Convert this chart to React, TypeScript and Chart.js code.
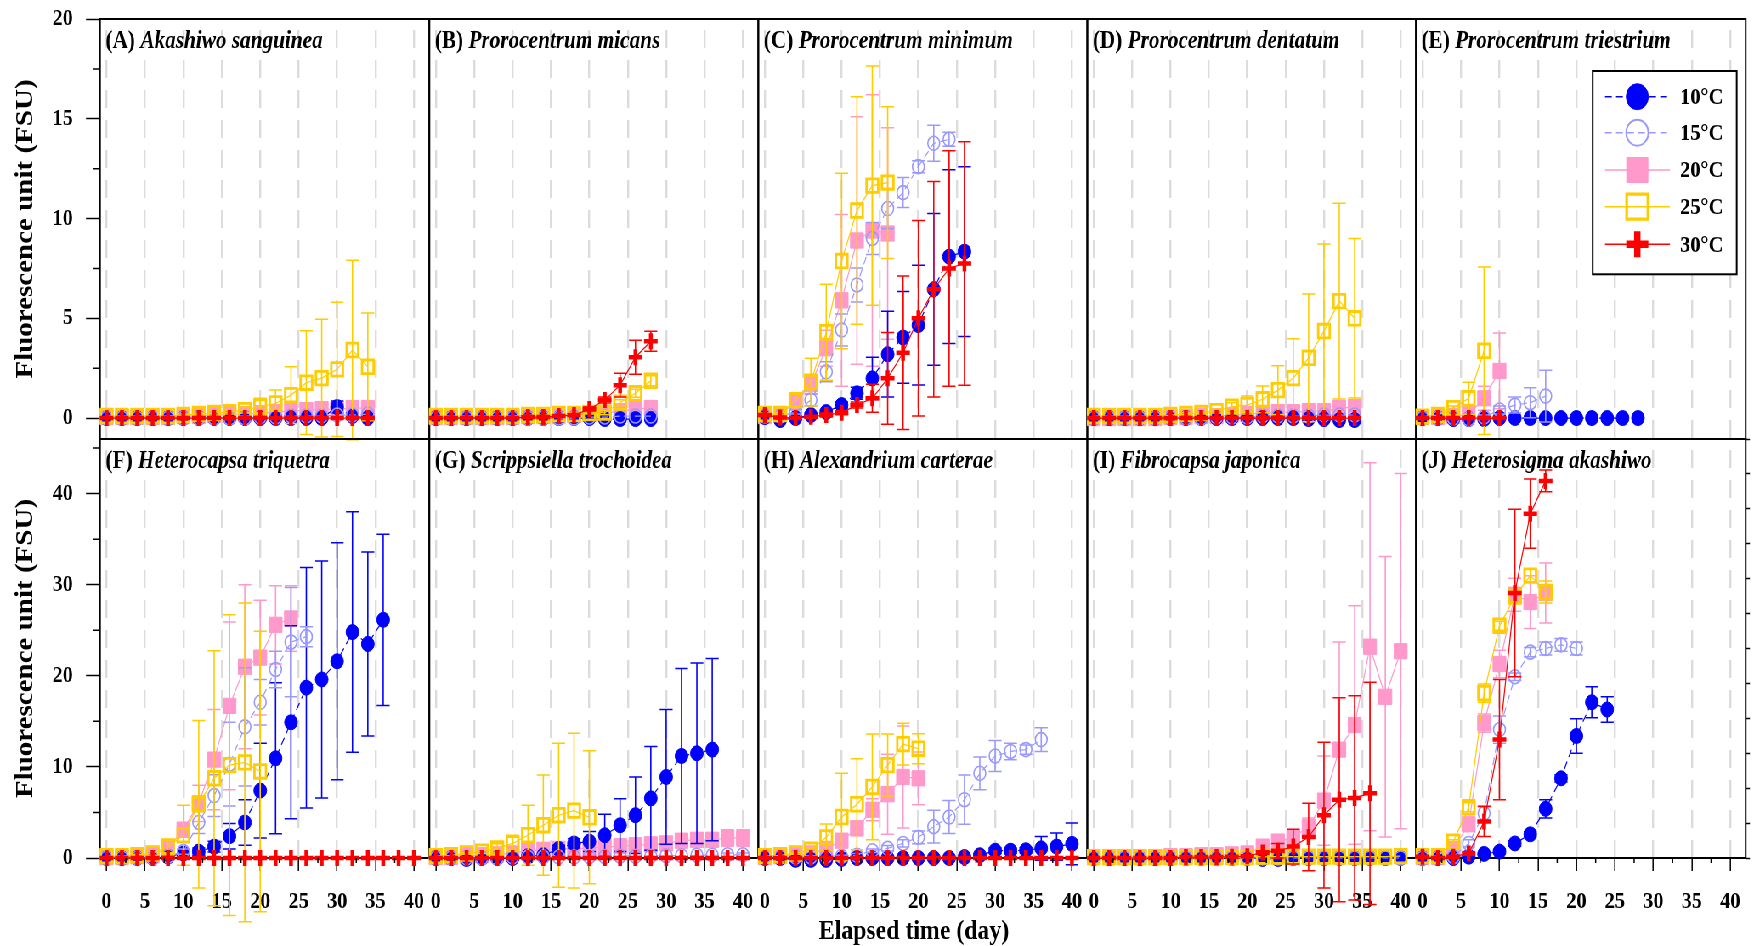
import React, { useEffect, useRef } from 'react';
import { Chart, registerables } from 'chart.js';

Chart.register(...registerables);

// ---------- page geometry (reference is horizontally squashed ~0.85) ----------
const PAGE_W = 1754;
const PAGE_H = 946;
const LW = 2064;
const SX = PAGE_W / LW;
const COLS_FULL = [100, 429.3, 758.3, 1087.3, 1416, 1745.7];
const ROWS = [19, 439, 858];
const COLS = COLS_FULL.map((v) => v / SX);

const SERIF = "'Liberation Serif', 'Times New Roman', Times, serif";

// ---------- axis / label constants ----------
const DAY_STEP = 2;
const SERIES = ['10°C', '15°C', '20°C', '25°C', '30°C'];
const X_MIN = -0.85;
const X_MAX = 42;
const X_TICKS = [0, 5, 10, 15, 20, 25, 30, 35, 40];
const X_MINOR = [2.5, 7.5, 12.5, 17.5, 22.5, 27.5, 32.5, 37.5];
const Y_TOP_RANGE = [-1.05, 20];
const Y_TOP_TICKS = [0, 5, 10, 15, 20];
const Y_TOP_MINOR = [2.5, 7.5, 12.5, 17.5];
const Y_BOT_RANGE = [0, 46];
const Y_BOT_TICKS = [0, 10, 20, 30, 40];
const Y_BOT_MINOR = [5, 15, 25, 35, 45];
const J_RIGHT_TICKS = [0, 1, 2, 3, 4, 5, 6, 7, 8, 9, 10, 11, 12];
const Y_TITLE = 'Fluorescence unit (FSU)';
const X_TITLE = 'Elapsed time (day)';

// ---------- data (mean and SD, one value every 2 days from day 0) ----------
// (A) Akashiwo sanguinea
const A10 = [0, 0, 0, 0, 0, 0, 0, 0, 0, 0, 0, 0, 0, 0, 0, 0.55, 0.1, 0];
const A10_SD = [0, 0, 0, 0, 0, 0, 0, 0, 0, 0, 0, 0, 0.1, 0.1, 0.1, 0.3, 0.1, 0];
const A15 = [0, 0, 0, 0, 0, 0, 0, 0, 0, 0, 0.05, 0.05, 0.1, 0.1, 0.1, 0.15, 0.15, 0.2];
const A15_SD = [0, 0, 0, 0, 0, 0, 0, 0, 0, 0, 0, 0, 0, 0, 0, 0, 0, 0];
const A20 = [0.05, 0.05, 0.05, 0.05, 0.05, 0.1, 0.1, 0.15, 0.2, 0.2, 0.25, 0.3, 0.35, 0.4, 0.45, 0.45, 0.5, 0.5];
const A20_SD = [0, 0, 0, 0, 0, 0, 0, 0.05, 0.05, 0.1, 0.1, 0.1, 0.15, 0.2, 0.2, 0.25, 0.25, 0.25];
const A25 = [0.1, 0.1, 0.1, 0.1, 0.1, 0.15, 0.2, 0.25, 0.3, 0.4, 0.57, 0.73, 1.15, 1.77, 2.0, 2.44, 3.41, 2.57];
const A25_SD = [0, 0, 0, 0, 0, 0.05, 0.05, 0.1, 0.1, 0.15, 0.42, 0.67, 1.42, 2.6, 2.95, 3.36, 4.5, 2.7];
const A30 = [0, 0, 0, 0, 0, 0, 0, 0, 0, 0, 0, 0, 0, 0, 0, 0, 0, 0];
const A30_SD = [0, 0, 0, 0, 0, 0, 0, 0, 0, 0, 0, 0, 0, 0, 0, 0, 0, 0];

// (B) Prorocentrum micans
const B10 = [0, 0, 0, 0, 0, 0, 0, 0, 0, 0, 0, -0.05, -0.05, -0.05, -0.05];
const B10_SD = [0, 0, 0, 0, 0, 0, 0, 0, 0, 0, 0, 0, 0, 0, 0];
const B15 = [0, 0, 0, 0, 0, 0, 0, 0, 0, 0, 0.05, 0.05, 0.1, 0.1, 0.1];
const B15_SD = [0, 0, 0, 0, 0, 0, 0, 0, 0, 0, 0, 0, 0, 0, 0];
const B20 = [0.05, 0.05, 0.05, 0.05, 0.05, 0.05, 0.1, 0.1, 0.1, 0.15, 0.2, 0.25, 0.35, 0.45, 0.5];
const B20_SD = [0, 0, 0, 0, 0, 0, 0, 0, 0, 0.05, 0.1, 0.1, 0.15, 0.2, 0.25];
const B25 = [0.1, 0.1, 0.1, 0.1, 0.1, 0.1, 0.15, 0.15, 0.2, 0.2, 0.25, 0.27, 0.77, 1.24, 1.87];
const B25_SD = [0, 0, 0, 0, 0, 0, 0, 0, 0, 0.05, 0.05, 0.1, 0.15, 0.2, 0.25];
const B30 = [0, 0, 0, 0, 0, 0, 0.05, 0.05, 0.1, 0.15, 0.45, 0.9, 1.65, 3.05, 3.85];
const B30_SD = [0, 0, 0, 0, 0, 0, 0, 0, 0, 0, 0.1, 0.15, 0.6, 0.85, 0.5];

// (C) Prorocentrum minimum
const C10 = [0.05, -0.1, 0, 0.15, 0.3, 0.65, 1.24, 1.99, 3.2, 4.04, 4.66, 6.45, 8.09, 8.34];
const C10_SD = [0, 0, 0.05, 0.1, 0.1, 0.15, 0.3, 1.06, 2.15, 2.3, 3.0, 3.8, 4.35, 4.25];
const C15 = [0.1, 0.1, 0.3, 0.9, 2.32, 4.41, 6.67, 9.0, 10.5, 11.3, 12.6, 13.77, 13.97];
const C15_SD = [0, 0, 0.1, 0.3, 0.5, 0.8, 0.85, 0.8, 1.0, 0.75, 0.3, 0.9, 0.35];
const C20 = [0.1, 0.2, 0.8, 1.7, 3.5, 5.9, 8.9, 9.4, 9.25];
const C20_SD = [0, 0.05, 0.3, 0.5, 0.9, 4.3, 6.2, 6.8, 5.3];
const C25 = [0.2, 0.2, 0.9, 1.8, 4.3, 7.87, 10.4, 11.65, 11.8];
const C25_SD = [0.05, 0.05, 0.3, 1.2, 2.4, 4.4, 5.7, 6.0, 3.8];
const C30 = [0.15, 0.03, 0, 0.07, 0.15, 0.27, 0.65, 0.99, 1.99, 3.27, 5.0, 6.45, 7.5, 7.75];
const C30_SD = [0, 0, 0, 0.05, 0.1, 0.1, 0.15, 0.7, 2.3, 3.85, 4.9, 5.4, 5.9, 6.1];

// (D) Prorocentrum dentatum
const D10 = [0, 0, 0, 0, 0, 0, 0, 0, 0, 0, 0, 0, 0, 0, -0.05, -0.05, -0.1, -0.1];
const D10_SD = [0, 0, 0, 0, 0, 0, 0, 0, 0, 0, 0, 0, 0, 0, 0, 0, 0, 0];
const D15 = [0, 0, 0, 0, 0, 0, 0, 0, 0.05, 0.05, 0.05, 0.1, 0.1, 0.1, 0.1, 0.15, 0.15, 0.15];
const D15_SD = [0, 0, 0, 0, 0, 0, 0, 0, 0, 0, 0, 0, 0, 0, 0, 0, 0, 0];
const D20 = [0, 0, 0, 0, 0, 0.05, 0.05, 0.1, 0.1, 0.15, 0.2, 0.25, 0.3, 0.3, 0.35, 0.35, 0.5, 0.55];
const D20_SD = [0, 0, 0, 0, 0, 0, 0, 0, 0, 0.05, 0.05, 0.1, 0.1, 0.1, 0.15, 0.15, 0.25, 0.3];
const D25 = [0.1, 0.1, 0.1, 0.1, 0.1, 0.15, 0.2, 0.25, 0.35, 0.57, 0.65, 0.94, 1.4, 2.0, 3.02, 4.36, 5.86, 5.0];
const D25_SD = [0, 0, 0, 0, 0, 0, 0.05, 0.05, 0.1, 0.2, 0.45, 0.67, 1.22, 1.98, 3.2, 4.36, 4.9, 4.0];
const D30 = [0, 0, 0, 0, 0, 0, 0, 0, 0, 0, 0, 0, 0, 0, 0, 0, 0, 0];
const D30_SD = [0, 0, 0, 0, 0, 0, 0, 0, 0, 0, 0, 0, 0, 0, 0, 0, 0, 0];

// (E) Prorocentrum triestrium
const E10 = [0, 0, -0.05, -0.05, -0.05, 0, 0, 0, 0, 0, 0, 0, 0, 0, 0];
const E10_SD = [0, 0, 0, 0, 0, 0, 0, 0, 0, 0, 0, 0, 0, 0, 0];
const E15 = [0, 0, 0, -0.05, 0.05, 0.4, 0.65, 0.77, 1.1];
const E15_SD = [0, 0, 0, 0, 0.1, 0.2, 0.4, 0.75, 1.3];
const E20 = [0.05, 0.05, 0.1, 0.2, 0.99, 2.36];
const E20_SD = [0, 0, 0, 0.1, 0.6, 1.9];
const E25 = [0.07, 0.15, 0.5, 0.99, 3.37];
const E25_SD = [0, 0, 0.1, 0.8, 4.2];
const E30 = [0, 0, 0, 0, 0, 0];
const E30_SD = [0, 0, 0, 0, 0, 0];

// (F) Heterocapsa triquetra
const F10 = [0, 0, 0, 0, 0.15, 0.5, 0.7, 1.25, 2.4, 3.9, 7.4, 10.95, 14.9, 18.7, 19.6, 21.6, 24.8, 23.5, 26.15];
const F10_SD = [0, 0, 0, 0, 0.1, 0.2, 0.4, 0.6, 1.4, 2.5, 5.2, 8.3, 10.6, 13.2, 13.0, 13.0, 13.2, 10.1, 9.4];
const F15 = [0, 0, 0, 0, 0.2, 0.7, 3.9, 6.85, 10.3, 14.4, 17.1, 20.7, 23.7, 24.3];
const F15_SD = [0, 0, 0, 0, 0.1, 0.3, 1.2, 2.3, 4.6, 6.5, 2.5, 2.0, 6.0, 1.1];
const F20 = [0.1, 0.1, 0.2, 0.3, 1.06, 3.1, 6.0, 10.8, 16.7, 21.0, 22.0, 25.6, 26.3];
const F20_SD = [0, 0, 0, 0.1, 0.4, 0.8, 2.0, 5.5, 9.2, 9.0, 6.3, 4.3, 3.6];
const F25 = [0.2, 0.2, 0.3, 0.5, 1.25, 2.5, 5.9, 8.75, 10.2, 10.5, 9.5];
const F25_SD = [0, 0, 0.1, 0.2, 0.8, 3.3, 9.2, 14.0, 16.5, 17.5, 15.4];
const F30 = [0, 0, 0, 0, 0, 0, 0, 0, 0, 0, 0, 0, 0, 0, 0, 0, 0, 0, 0, 0, 0];
const F30_SD = [0, 0, 0, 0, 0, 0, 0, 0, 0, 0, 0, 0, 0, 0, 0, 0, 0, 0, 0, 0, 0];

// (G) Scrippsiella trochoidea
const G10 = [0, 0, -0.1, 0, 0, 0, 0.2, 0.3, 1.0, 1.6, 1.8, 2.5, 3.6, 4.7, 6.55, 8.9, 11.2, 11.5, 11.9];
const G10_SD = [0, 0, 0.1, 0, 0, 0, 0.1, 0.2, 0.4, 0.5, 1.1, 2.3, 2.9, 4.2, 5.7, 7.4, 9.6, 9.9, 10.0];
const G15 = [0, 0, 0, 0, 0, 0.1, 0.1, 0.1, 0.1, 0.1, 0.15, 0.15, 0.2, 0.2, 0.2, 0.25, 0.25, 0.3, 0.3, 0.35, 0.35];
const G15_SD = [0, 0, 0, 0, 0, 0, 0, 0, 0, 0, 0, 0, 0, 0, 0, 0, 0, 0, 0, 0.2, 0.2];
const G20 = [0.1, 0.1, 0.2, 0.3, 0.4, 0.5, 0.8, 0.9, 1.0, 1.0, 1.1, 1.2, 1.3, 1.4, 1.5, 1.6, 1.9, 2.0, 2.0, 2.2, 2.2];
const G20_SD = [0, 0, 0, 0, 0.1, 0.1, 0.2, 0.2, 0.3, 0.3, 0.3, 0.4, 0.4, 0.4, 0.5, 0.5, 0.6, 0.7, 0.7, 0.9, 0.9];
const G25 = [0.2, 0.3, 0.5, 0.7, 1.06, 1.6, 2.5, 3.6, 4.7, 5.2, 4.47];
const G25_SD = [0, 0, 0.1, 0.2, 0.5, 0.9, 3.3, 5.5, 7.9, 8.5, 7.3];
const G30 = [0, 0, 0, 0, 0, 0, 0, 0, 0, 0, 0, 0, 0, 0, 0, 0, 0, 0, 0, 0, 0];
const G30_SD = [0, 0, 0, 0, 0, 0, 0, 0, 0, 0, 0, 0, 0, 0, 0, 0, 0, 0, 0, 0, 0];

// (H) Alexandrium carterae
const H10 = [0, 0, -0.2, -0.2, -0.2, -0.1, 0, 0, 0, 0, 0, 0, 0, 0.1, 0.3, 0.8, 0.8, 0.85, 1.06, 1.25, 1.55];
const H10_SD = [0, 0, 0.1, 0.1, 0.1, 0.1, 0, 0, 0, 0, 0, 0, 0, 0.1, 0.2, 0.3, 0.3, 0.3, 1.3, 1.5, 2.3];
const H15 = [0.1, 0.1, 0.1, 0.1, 0.2, 0.2, 0.3, 0.8, 1.06, 1.6, 2.27, 3.44, 4.5, 6.4, 9.3, 11.2, 11.7, 11.9, 13.0];
const H15_SD = [0, 0, 0, 0, 0, 0.1, 0.2, 0.2, 0.3, 0.4, 0.7, 1.8, 1.8, 2.7, 1.8, 1.7, 0.9, 0.5, 1.3];
const H20 = [0.1, 0.2, 0.3, 0.5, 1.0, 1.9, 3.26, 5.3, 7.0, 8.9, 8.75];
const H20_SD = [0, 0, 0, 0.1, 0.3, 0.5, 0.8, 1.2, 4.4, 5.6, 2.9];
const H25 = [0.2, 0.3, 0.5, 0.9, 2.27, 4.5, 5.9, 7.8, 10.2, 12.5, 12.0];
const H25_SD = [0, 0, 0.1, 0.2, 1.45, 4.8, 5.0, 5.8, 3.4, 2.3, 1.65];
const H30 = [0, 0, 0, 0, 0, 0, 0, 0, 0, 0, 0, 0, 0, 0, 0, 0, 0, 0, 0, 0, 0];
const H30_SD = [0, 0, 0, 0, 0, 0, 0, 0, 0, 0, 0, 0, 0, 0, 0, 0, 0, 0, 0, 0, 0];

// (I) Fibrocapsa japonica
const I10 = [0, 0, 0, 0, 0, 0, 0, 0, 0, 0, 0, -0.1, -0.1, 0, 0, 0, 0, 0, 0, 0, 0];
const I10_SD = [0, 0, 0, 0, 0, 0, 0, 0, 0, 0, 0, 0, 0, 0, 0, 0, 0, 0, 0, 0, 0];
const I15 = [0, 0, 0, 0, 0, 0, 0, 0, 0, 0, 0, 0, 0, 0, 0, 0, 0, 0, 0, 0, 0];
const I15_SD = [0, 0, 0, 0, 0, 0, 0, 0, 0, 0, 0, 0, 0, 0, 0, 0, 0, 0, 0, 0, 0];
const I20 = [0.1, 0.1, 0.1, 0.1, 0.1, 0.2, 0.2, 0.3, 0.3, 0.4, 0.5, 1.25, 1.8, 2.3, 3.4, 6.3, 11.9, 14.6, 23.2, 17.7, 22.7];
const I20_SD = [0, 0, 0, 0, 0, 0, 0, 0, 0, 0.1, 0.2, 0.2, 0.4, 0.6, 1.0, 4.9, 11.8, 13.1, 20.2, 15.4, 19.5];
const I25 = [0.1, 0.1, 0.1, 0.1, 0.1, 0.1, 0.1, 0.1, 0.1, 0.1, 0.1, 0.15, 0.15, 0.15, 0.15, 0.15, 0.15, 0.15, 0.15, 0.15, 0.2];
const I25_SD = [0, 0, 0, 0, 0, 0, 0, 0, 0, 0, 0, 0, 0, 0, 0, 0, 0, 0, 0, 0, 0];
const I30 = [0, 0, 0, 0, 0, 0, 0.1, 0.1, 0.1, 0.15, 0.2, 0.6, 0.8, 1.25, 2.3, 4.7, 6.4, 6.6, 7.1];
const I30_SD = [0, 0, 0, 0, 0, 0, 0, 0, 0, 0, 0.1, 0.2, 0.8, 1.9, 3.7, 8.0, 11.2, 11.2, 12.2];

// (J) Heterosigma akashiwo
const J10 = [0, 0, 0, 0.15, 0.45, 0.7, 1.6, 2.6, 5.4, 8.75, 13.4, 17.1, 16.3];
const J10_SD = [0, 0, 0, 0, 0.1, 0.2, 0.3, 0.3, 1.0, 0.4, 1.9, 1.7, 1.4];
const J15 = [0, 0, 0.15, 1.6, 4.9, 14.1, 19.9, 22.6, 23.0, 23.4, 23.0];
const J15_SD = [0, 0, 0, 0.4, 0.8, 1.5, 0.4, 0.5, 0.7, 0.7, 0.7];
const J20 = [0.1, 0.1, 1.0, 3.7, 14.8, 21.3, 28.9, 28.1, 29.1];
const J20_SD = [0, 0, 0.2, 0.5, 1.0, 1.5, 1.8, 2.9, 3.3];
const J25 = [0.2, 0.2, 1.8, 5.57, 18.1, 25.5, 28.7, 31.0, 29.2];
const J25_SD = [0, 0, 0.2, 0.5, 1.0, 0.5, 0.7, 0.7, 1.2];
const J30 = [0.15, 0, 0.15, 0.5, 4.0, 13.0, 29.1, 37.8, 41.4];
const J30_SD = [0, 0.1, 0, 0.2, 1.65, 6.6, 9.2, 3.8, 1.2];

// ---------- panels ----------
const PANELS = [
  { tag: '(A)', name: 'Akashiwo sanguinea', row: 0, col: 0, values: [A10, A15, A20, A25, A30], sds: [A10_SD, A15_SD, A20_SD, A25_SD, A30_SD] },
  { tag: '(B)', name: 'Prorocentrum micans', row: 0, col: 1, values: [B10, B15, B20, B25, B30], sds: [B10_SD, B15_SD, B20_SD, B25_SD, B30_SD] },
  { tag: '(C)', name: 'Prorocentrum minimum', row: 0, col: 2, values: [C10, C15, C20, C25, C30], sds: [C10_SD, C15_SD, C20_SD, C25_SD, C30_SD] },
  { tag: '(D)', name: 'Prorocentrum dentatum', row: 0, col: 3, values: [D10, D15, D20, D25, D30], sds: [D10_SD, D15_SD, D20_SD, D25_SD, D30_SD] },
  { tag: '(E)', name: 'Prorocentrum triestrium', row: 0, col: 4, values: [E10, E15, E20, E25, E30], sds: [E10_SD, E15_SD, E20_SD, E25_SD, E30_SD], legend: true },
  { tag: '(F)', name: 'Heterocapsa triquetra', row: 1, col: 0, values: [F10, F15, F20, F25, F30], sds: [F10_SD, F15_SD, F20_SD, F25_SD, F30_SD] },
  { tag: '(G)', name: 'Scrippsiella trochoidea', row: 1, col: 1, values: [G10, G15, G20, G25, G30], sds: [G10_SD, G15_SD, G20_SD, G25_SD, G30_SD] },
  { tag: '(H)', name: 'Alexandrium carterae', row: 1, col: 2, values: [H10, H15, H20, H25, H30], sds: [H10_SD, H15_SD, H20_SD, H25_SD, H30_SD], xTitle: true },
  { tag: '(I)', name: 'Fibrocapsa japonica', row: 1, col: 3, values: [I10, I15, I20, I25, I30], sds: [I10_SD, I15_SD, I20_SD, I25_SD, I30_SD] },
  { tag: '(J)', name: 'Heterosigma akashiwo', row: 1, col: 4, values: [J10, J15, J20, J25, J30], sds: [J10_SD, J15_SD, J20_SD, J25_SD, J30_SD], rightAxis: true },
];

// ---------- styles ----------
const STYLES = [
  { color: '#0000ff', shape: 'circle', r: 7.5, fill: true, pbw: 1, dash: [8, 5], order: 3 },
  { color: '#9999ff', shape: 'circle', r: 7, fill: false, pbw: 1.6, dash: [8, 5], order: 2 },
  { color: '#ff99cc', shape: 'rect', r: 10.8, fill: true, pbw: 1, dash: [], order: 4 },
  { color: '#ffcc00', shape: 'rect', r: 9.6, fill: false, pbw: 2.8, dash: [], order: 1 },
  { color: '#ff0000', shape: 'cross', r: 8, fill: false, pbw: 4.5, dash: [], order: 0 },
];

const LEGEND_BOX = { x1: 1592.7, y1: 71, x2: 1736.7, y2: 274.3, lineX1: 1605, lineX2: 1670, markX: 1637.3, textX: 1680, rows: [96.7, 132.7, 170, 206.7, 244.3] };
const X_TITLE_POS = { x: 914, y: 932 };
const CAP = 7.6;

function zeroPadding(s: any) {
  s.paddingTop = 0;
  s.paddingBottom = 0;
  s.paddingLeft = 0;
  s.paddingRight = 0;
}

const decorPlugin = {
  id: 'panelDecor',
  beforeDatasetsDraw(chart: any, _a: any, o: any) {
    const ctx = chart.ctx;
    const ca = chart.chartArea;
    ctx.save();
    ctx.strokeStyle = '#000';
    ctx.lineWidth = 2;
    ctx.setLineDash([]);
    ctx.strokeRect(ca.left, ca.top, ca.right - ca.left, ca.bottom - ca.top);
    ctx.fillStyle = '#000';
    ctx.textAlign = 'left';
    ctx.textBaseline = 'alphabetic';
    const tx = ca.left + 6.5;
    const ty = ca.top + 29;
    ctx.font = `bold 25px ${SERIF}`;
    const tagText = o.tag + ' ';
    ctx.fillText(tagText, tx, ty);
    const w = ctx.measureText(tagText).width;
    ctx.font = `italic bold 25px ${SERIF}`;
    ctx.fillText(o.name, tx + w, ty);
    ctx.restore();
  },
  beforeDatasetDraw(chart: any, args: any) {
    const ds = chart.data.datasets[args.index];
    const sd = ds.errorBars;
    if (!sd) return;
    const ys = chart.scales.y;
    const ctx = chart.ctx;
    ctx.save();
    ctx.strokeStyle = ds.borderColor;
    ctx.setLineDash([]);
    args.meta.data.forEach((el: any, i: number) => {
      const s = sd[i];
      if (!s) return;
      const v = ds.data[i].y;
      const x = el.x;
      const y1 = ys.getPixelForValue(v + s);
      const y2 = ys.getPixelForValue(v - s);
      ctx.lineWidth = 1.6;
      ctx.beginPath();
      ctx.moveTo(x, y1);
      ctx.lineTo(x, y2);
      ctx.stroke();
      ctx.lineWidth = 1.5;
      ctx.beginPath();
      ctx.moveTo(x - CAP, y1);
      ctx.lineTo(x + CAP, y1);
      ctx.moveTo(x - CAP, y2);
      ctx.lineTo(x + CAP, y2);
      ctx.stroke();
    });
    ctx.restore();
  },
  afterDraw(chart: any, _a: any, o: any) {
    const ctx = chart.ctx;
    const ca = chart.chartArea;
    ctx.save();
    ctx.strokeStyle = '#000';
    ctx.lineWidth = 1.5;
    ctx.setLineDash([]);
    if (o.minorX) {
      const s = chart.scales.x;
      ctx.beginPath();
      o.minorX.forEach((v: number) => {
        const px = s.getPixelForValue(v);
        ctx.moveTo(px, ca.bottom);
        ctx.lineTo(px, ca.bottom + 5);
      });
      ctx.stroke();
    }
    if (o.minorY) {
      const s = chart.scales.y;
      ctx.beginPath();
      o.minorY.forEach((v: number) => {
        const py = s.getPixelForValue(v);
        ctx.moveTo(ca.left - 8, py);
        ctx.lineTo(ca.left, py);
      });
      ctx.stroke();
    }
    if (o.xTitle) {
      ctx.fillStyle = '#000';
      ctx.font = `bold 28px ${SERIF}`;
      ctx.textAlign = 'center';
      ctx.textBaseline = 'middle';
      ctx.fillText(X_TITLE, X_TITLE_POS.x / SX, X_TITLE_POS.y);
    }
    if (o.legend) {
      const L = LEGEND_BOX;
      const x1 = L.x1 / SX, x2 = L.x2 / SX;
      ctx.fillStyle = '#fff';
      ctx.fillRect(x1, L.y1, x2 - x1, L.y2 - L.y1);
      ctx.strokeStyle = '#000';
      ctx.lineWidth = 2;
      ctx.strokeRect(x1, L.y1, x2 - x1, L.y2 - L.y1);
      const mx = L.markX / SX;
      STYLES.forEach((st, k) => {
        const y = L.rows[k];
        ctx.strokeStyle = st.color;
        ctx.fillStyle = st.color;
        ctx.lineWidth = 1.5;
        ctx.setLineDash(st.dash);
        ctx.beginPath();
        ctx.moveTo(L.lineX1 / SX, y);
        ctx.lineTo(L.lineX2 / SX, y);
        ctx.stroke();
        ctx.setLineDash([]);
        if (st.shape === 'circle') {
          ctx.beginPath();
          ctx.arc(mx, y, 13, 0, Math.PI * 2);
          if (st.fill) ctx.fill();
          ctx.lineWidth = st.fill ? 1 : 2;
          ctx.stroke();
        } else if (st.shape === 'rect') {
          ctx.beginPath();
          ctx.rect(mx - 12.5, y - 12.5, 25, 25);
          if (st.fill) ctx.fill();
          ctx.lineWidth = st.fill ? 1 : 3.2;
          ctx.stroke();
        } else {
          ctx.lineWidth = 7.5;
          ctx.beginPath();
          ctx.moveTo(mx, y - 13);
          ctx.lineTo(mx, y + 13);
          ctx.moveTo(mx - 13, y);
          ctx.lineTo(mx + 13, y);
          ctx.stroke();
        }
        ctx.fillStyle = '#000';
        ctx.font = `bold 24px ${SERIF}`;
        ctx.textAlign = 'left';
        ctx.textBaseline = 'middle';
        ctx.fillText(SERIES[k], L.textX / SX, y + 1);
      });
    }
    ctx.restore();
  },
};

function makeConfig(p: any): any {
  const left = COLS[p.col];
  const right = COLS[p.col + 1];
  const top = ROWS[p.row];
  const bottom = ROWS[p.row + 1];
  const isBottom = p.row === 1;
  const isFirst = p.col === 0;
  const xH = isBottom ? PAGE_H - bottom : 0;
  const yW = isFirst ? left : 0;
  const yRange = isBottom ? Y_BOT_RANGE : Y_TOP_RANGE;
  const yTicks = isBottom ? Y_BOT_TICKS : Y_TOP_TICKS;
  const yMinor = isBottom ? Y_BOT_MINOR : Y_TOP_MINOR;

  const datasets = STYLES.map((st, k) => ({
    label: SERIES[k],
    data: p.values[k].map((v: number, i: number) => ({ x: i * DAY_STEP, y: v })),
    errorBars: p.sds[k],
    borderColor: st.color,
    backgroundColor: st.color,
    borderWidth: 1.2,
    borderDash: st.dash,
    pointStyle: st.shape,
    pointRadius: st.r,
    pointHoverRadius: st.r,
    pointBackgroundColor: st.fill ? st.color : 'rgba(0,0,0,0)',
    pointBorderColor: st.color,
    pointBorderWidth: st.pbw,
    tension: 0,
    clip: false,
    order: st.order,
  }));

  const tickFont = { family: SERIF, size: 24, weight: 'bold' };

  const scales: any = {
    x: {
      type: 'linear',
      min: X_MIN,
      max: X_MAX,
      bounds: 'data',
      afterBuildTicks: (s: any) => {
        s.ticks = X_TICKS.map((v) => ({ value: v }));
      },
      afterFit: (s: any) => {
        s.height = xH;
        zeroPadding(s);
      },
      ticks: { display: isBottom, font: tickFont, color: '#000', padding: 16.6, autoSkip: false, maxRotation: 0, minRotation: 0 },
      grid: {
        display: true,
        drawOnChartArea: true,
        drawTicks: isBottom,
        color: '#dcdcdc',
        lineWidth: 2.4,
        tickLength: 13,
        tickColor: '#000',
        tickWidth: 1.5,
        borderDash: [18, 12],
        borderDashOffset: 19,
      },
      border: { display: false, dash: [18, 12], dashOffset: 19 },
    },
    y: {
      type: 'linear',
      min: yRange[0],
      max: yRange[1],
      bounds: 'data',
      display: isFirst,
      afterBuildTicks: (s: any) => {
        s.ticks = yTicks.map((v) => ({ value: v }));
      },
      afterFit: (s: any) => {
        s.width = yW;
        zeroPadding(s);
      },
      ticks: { font: tickFont, color: '#000', padding: 15.3, autoSkip: false },
      grid: { drawOnChartArea: false, drawTicks: true, tickLength: 16.5, tickColor: '#000', tickWidth: 1.5 },
      border: { display: false },
      title: {
        display: isFirst,
        text: Y_TITLE,
        color: '#000',
        font: { family: SERIF, size: 29, weight: 'bold' },
        padding: { top: 13.2, bottom: 0 },
      },
    },
  };
  if (p.rightAxis) {
    scales.y2 = {
      type: 'linear',
      position: 'right',
      min: 0,
      max: 12,
      bounds: 'data',
      display: true,
      afterBuildTicks: (s: any) => {
        s.ticks = J_RIGHT_TICKS.map((v) => ({ value: v }));
      },
      afterFit: (s: any) => {
        s.width = 0;
        zeroPadding(s);
      },
      ticks: { display: false },
      grid: { drawOnChartArea: false, drawTicks: true, tickLength: 5, tickColor: '#000', tickWidth: 1.5 },
      border: { display: false },
    };
  }

  return {
    type: 'line',
    data: { datasets },
    plugins: [decorPlugin],
    options: {
      responsive: false,
      animation: false,
      events: [],
      layout: {
        autoPadding: false,
        padding: { left: left - yW, right: LW - right, top, bottom: PAGE_H - bottom - xH },
      },
      scales,
      plugins: {
        legend: { display: false },
        tooltip: { enabled: false },
        title: { display: false },
        panelDecor: {
          tag: p.tag,
          name: p.name,
          minorX: isBottom ? X_MINOR : null,
          minorY: isFirst ? yMinor : null,
          legend: !!p.legend,
          xTitle: !!p.xTitle,
        },
      },
    },
  };
}

export default function App() {
  const refs = useRef<(HTMLCanvasElement | null)[]>([]);
  useEffect(() => {
    const charts = PANELS.map((p, i) => new Chart(refs.current[i] as HTMLCanvasElement, makeConfig(p)));
    return () => {
      charts.forEach((c) => c.destroy());
    };
  }, []);
  return (
    <div style={{ position: 'fixed', left: 0, top: 0, width: PAGE_W, height: PAGE_H, overflow: 'hidden', background: '#fff' }}>
      <div style={{ position: 'absolute', left: 0, top: 0, width: LW, height: PAGE_H, transform: `scaleX(${SX})`, transformOrigin: '0 0' }}>
        {PANELS.map((p, i) => (
          <canvas
            key={p.tag}
            ref={(el) => {
              refs.current[i] = el;
            }}
            width={LW}
            height={PAGE_H}
            style={{ position: 'absolute', left: 0, top: 0, width: LW, height: PAGE_H }}
          />
        ))}
      </div>
    </div>
  );
}
